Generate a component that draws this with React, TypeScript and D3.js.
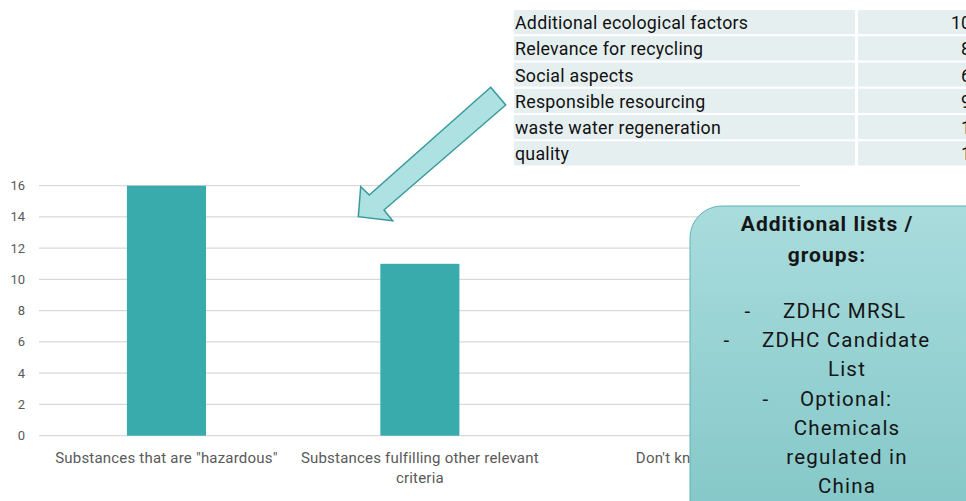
import React from "react";
import * as d3 from "d3";

const categories = ["Substances that are \"hazardous\"", "Substances fulfilling other relevant criteria", "Don't know"];
const values = [16, 11, 0];
const yTicks = [0, 2, 4, 6, 8, 10, 12, 14, 16];
const tableLabels = ["Additional ecological factors", "Relevance for recycling", "Social aspects", "Responsible resourcing", "waste water regeneration", "quality"];
const tableValues = [10, 8, 6, 9, 1, 1];
const boxTitle = ["Additional lists /", "groups:"];
const boxItems = [
  { dash: true, lines: ["ZDHC MRSL"] },
  { dash: true, lines: ["ZDHC Candidate", "List"] },
  { dash: true, lines: ["Optional:", "Chemicals", "regulated in", "China"] },
];

const W = 966;
const H = 501;
const FONT = "Roboto, 'DejaVu Sans', sans-serif";

function wrapLabel(s: string): string[] {
  if (s.length > 32) {
    const idx = s.lastIndexOf(" ");
    return [s.slice(0, idx), s.slice(idx + 1)];
  }
  return [s];
}

export default function App() {
  const x = d3.scaleBand<string>().domain(categories).range([39.75, 800]).paddingInner(0.688).paddingOuter(0.344);
  const y = d3.scaleLinear().domain([0, 16]).range([435.7, 185.7]);

  const rowTop = d3.scaleBand<number>().domain(d3.range(tableLabels.length)).range([10, 165.5]).paddingInner(0.08).paddingOuter(0);

  // arrow polygon (annotation)
  const arrow = [
    [490.7, 87.3], [505.7, 105], [384, 210], [392.7, 220.7], [358.3, 216.7], [360.7, 186.7], [369.3, 195],
  ];

  let lineY = 231;
  const boxLines: { text: string; anchor: string; x: number; y: number; bold?: boolean }[] = [];
  boxTitle.forEach((t) => { boxLines.push({ text: t, anchor: "middle", x: 827, y: lineY, bold: true }); lineY += 31; });
  lineY = 318;
  const dashX = [748, 727, 766];
  const firstX = [783, 762, 800];
  boxItems.forEach((it, i) => {
    it.lines.forEach((l, j) => {
      if (j === 0) {
        boxLines.push({ text: "-", anchor: "middle", x: dashX[i], y: lineY });
        boxLines.push({ text: l, anchor: "start", x: firstX[i], y: lineY });
      } else {
        boxLines.push({ text: l, anchor: "middle", x: 847, y: lineY });
      }
      lineY += 29.2;
    });
  });

  return (
    <svg width={W} height={H} style={{ position: "absolute", left: 0, top: 0, background: "#fff" }} fontFamily={FONT}>
      <defs>
        <linearGradient id="boxg" x1="0" y1="0" x2="0" y2="1">
          <stop offset="0%" stopColor="#a9dcdd" />
          <stop offset="100%" stopColor="#82c6c7" />
        </linearGradient>
      </defs>
      {/* gridlines */}
      {yTicks.map((t) => (
        <g key={t}>
          <line x1={39} x2={800} y1={y(t)} y2={y(t)} stroke="#d9d9d9" strokeWidth={1.2} />
          <text x={25} y={y(t) + 4.5} textAnchor="end" fontSize={13} fill="#595959">{t}</text>
        </g>
      ))}
      {/* bars */}
      {categories.map((c, i) => (
        <rect key={c} x={x(c)} y={y(values[i])} width={x.bandwidth()} height={y(0) - y(values[i])} fill="#3aabad" />
      ))}
      {/* x labels */}
      {categories.map((c) => {
        const lines = wrapLabel(c);
        return (
          <text key={c} textAnchor="middle" fontSize={15} fill="#595959" letterSpacing={0.2}>
            {lines.map((l, j) => (
              <tspan key={j} x={(x(c) as number) + x.bandwidth() / 2} y={462.5 + j * 20.5}>{l}</tspan>
            ))}
          </text>
        );
      })}
      {/* table */}
      {tableLabels.map((l, i) => {
        const ty = rowTop(i) as number;
        const h = rowTop.bandwidth();
        return (
          <g key={l}>
            <rect x={514} y={ty} width={341} height={h} fill="#e6eff0" />
            <rect x={858} y={ty} width={120} height={h} fill="#e6eff0" />
            <text x={515} y={ty + 19} fontSize={17.8} fill="#111" letterSpacing={0.25}>{l}</text>
            <text x={971} y={ty + 19} fontSize={17.8} fill="#111" textAnchor="end">{tableValues[i]}</text>
          </g>
        );
      })}
      {/* arrow */}
      <polygon points={arrow.map((p) => p.join(",")).join(" ")} fill="#ade1e2" stroke="#3a9a9b" strokeWidth={1.5} strokeLinejoin="miter" />
      {/* box */}
      <rect x={690} y={206} width={320} height={330} rx={32} ry={32} fill="url(#boxg)" stroke="#5fb4b5" strokeWidth={1} />
      {boxLines.map((b, i) => (
        <text key={i} x={b.x} y={b.y} fontSize={b.bold ? 21 : 20.5} fontWeight={b.bold ? 700 : 400} fill="#151515"
          letterSpacing={b.bold ? 1 : 1.2} textAnchor={b.anchor}>{b.text}</text>
      ))}
    </svg>
  );
}
